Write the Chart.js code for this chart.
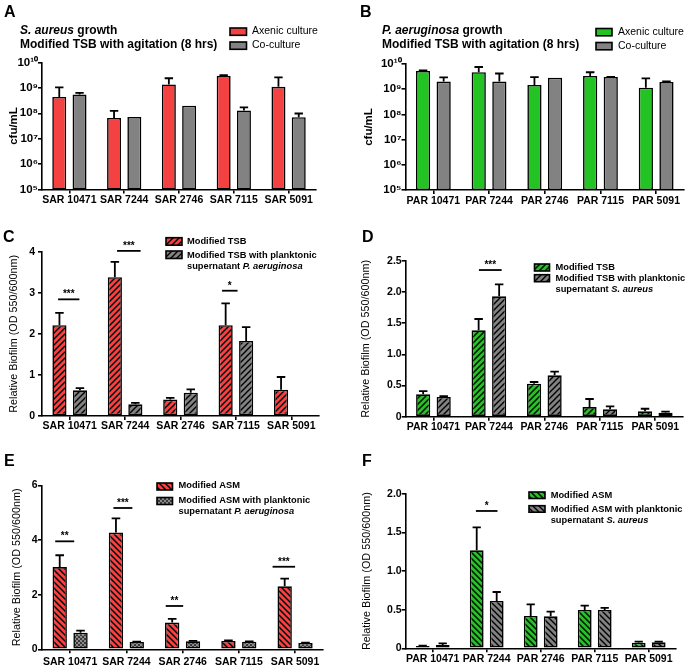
<!DOCTYPE html>
<html>
<head>
<meta charset="utf-8">
<script src="https://cdn.jsdelivr.net/npm/chart.js@4.4.1/dist/chart.umd.min.js"></script>
<style>
    html, body { margin: 0; padding: 0; background: #fff; }
    #fig { position: relative; width: 685px; height: 672px; }
    #fig canvas { position: absolute; }
</style>
</head>
<body>
<div id="fig">
    <canvas id="chartA" width="345" height="225" style="left:0;top:0"></canvas>
    <canvas id="chartB" width="340" height="225" style="left:345px;top:0"></canvas>
    <canvas id="chartC" width="345" height="225" style="left:0;top:225px"></canvas>
    <canvas id="chartD" width="340" height="225" style="left:345px;top:225px"></canvas>
    <canvas id="chartE" width="345" height="222" style="left:0;top:450px"></canvas>
    <canvas id="chartF" width="340" height="222" style="left:345px;top:450px"></canvas>
</div>
<script>
// ---- data ----
const SAR_STRAINS = ['SAR 10471', 'SAR 7244', 'SAR 2746', 'SAR 7115', 'SAR 5091'];
const PAR_STRAINS = ['PAR 10471', 'PAR 7244', 'PAR 2746', 'PAR 7115', 'PAR 5091'];

// A: S. aureus growth (cfu/mL), error = upper SD
const saAxenic = [4.4e8, 6.6e7, 1.36e9, 3.0e9, 1.1e9];
const saAxenicErr = [6.0e8, 5.9e7, 1.04e9, 2.0e8, 1.5e9];
const saCoculture = [5.5e8, 7.2e7, 2.0e8, 1.3e8, 7.0e7];
const saCocultureErr = [9e7, 0, 0, 4e7, 2.8e7];

// B: P. aeruginosa growth (cfu/mL)
const paAxenic = [5.3e9, 4.7e9, 1.47e9, 3.34e9, 1.15e9];
const paAxenicErr = [3e8, 2.9e9, 1.53e9, 1.36e9, 1.55e9];
const paCoculture = [2.0e9, 2.0e9, 2.87e9, 3.05e9, 1.93e9];
const paCocultureErr = [9.6e8, 2.2e9, 0, 5e7, 1.1e8];

// C: S. aureus biofilm, modified TSB
const cTsb = [2.21, 3.38, 0.40, 2.21, 0.64];
const cTsbErr = [0.30, 0.37, 0.04, 0.53, 0.31];
const cTsbSup = [0.625, 0.284, 0.568, 1.826, null];
const cTsbSupErr = [0.055, 0.036, 0.08, 0.34, null];

// D: P. aeruginosa biofilm, modified TSB
const dTsb = [0.359, 1.387, 0.53, 0.155, 0.086];
const dTsbErr = [0.053, 0.182, 0.027, 0.129, 0.042];
const dTsbSup = [0.316, 1.933, 0.664, 0.118, 0.064];
const dTsbSupErr = [0.014, 0.192, 0.059, 0.048, 0.016];

// E: S. aureus biofilm, modified ASM
const eAsm = [3.01, 4.27, 0.976, 0.305, 2.305];
const eAsmErr = [0.43, 0.52, 0.134, 0.025, 0.28];
const eAsmSup = [0.61, 0.268, 0.293, 0.28, 0.232];
const eAsmSupErr = [0.073, 0.012, 0.012, 0.01, 0.012];

// F: P. aeruginosa biofilm, modified ASM
const fAsm = [0.03, 1.27, 0.419, 0.497, 0.073];
const fAsmErr = [0.005, 0.298, 0.151, 0.056, 0.013];
const fAsmSup = [0.043, 0.613, 0.415, 0.497, 0.078];
const fAsmSupErr = [0.022, 0.117, 0.06, 0.026, 0.008];

// significance bars: [category, from (cat widths), to, y value, stars]
const sigC = [[0, -0.21, 0.175, 2.84, '***'], [1, -0.145, 0.28, 4.02, '***'], [3, -0.25, 0.03, 3.05, '*']];
const sigD = [[1, -0.18, 0.23, 2.355, '***']];
const sigE = [[0, -0.265, 0.073, 3.95, '**'], [1, -0.23, 0.107, 5.17, '***'], [2, -0.3, 0.01, 1.585, '**'], [4, -0.4, 0.0, 3.02, '***']];
const sigF = [[1, -0.2, 0.2, 1.78, '*']];

// ---- styling ----
const FF = '"Liberation Sans", Arial, Helvetica, sans-serif';
const f = (style, size) => `${style} ${size}px ${FF}`;
const RED = '#f44242';
const GREEN = '#22c322';
const GREY = '#828282';
const TICK_FONT = { family: FF, size: 10.5, weight: 'bold' };

Chart.defaults.font.family = FF;
Chart.defaults.color = '#000';

function hatch(color, dir, size, lw) {
    const c = document.createElement('canvas');
    c.width = c.height = size;
    const g = c.getContext('2d');
    g.fillStyle = color;
    g.fillRect(0, 0, size, size);
    g.strokeStyle = '#000';
    g.lineWidth = lw;
    g.beginPath();
    for (let k = -1; k <= 2; k++) {
        const c0 = k * size;
        if (dir === '/') {
            g.moveTo(c0 + 2, -2); g.lineTo(c0 - size - 2, size + 2);
        } else {
            g.moveTo(c0 - 2, -2); g.lineTo(c0 + size + 2, size + 2);
        }
    }
    g.stroke();
    return g.createPattern(c, 'repeat');
}

function checker(bg, fg, cell) {
    const c = document.createElement('canvas');
    c.width = c.height = cell * 2;
    const g = c.getContext('2d');
    g.fillStyle = bg;
    g.fillRect(0, 0, cell * 2, cell * 2);
    g.fillStyle = fg;
    g.fillRect(0, 0, cell, cell);
    g.fillRect(cell, cell, cell, cell);
    return g.createPattern(c, 'repeat');
}

const SUP = '⁰¹²³⁴⁵⁶⁷⁸⁹';
function powerLabel(v) {
    const e = Math.round(Math.log10(v));
    return '10' + String(e).split('').map(d => SUP[+d]).join('');
}

// ---- plugins ----
const errorBarPlugin = {
    id: 'errorBars',
    afterDatasetsDraw(chart) {
        const ctx = chart.ctx, yScale = chart.scales.y;
        ctx.save();
        ctx.strokeStyle = '#000';
        ctx.lineWidth = 1.8;
        chart.data.datasets.forEach((ds, i) => {
            const meta = chart.getDatasetMeta(i);
            (ds.errorBars || []).forEach((e, j) => {
                const v = ds.data[j];
                if (!e || v == null) return;
                const bar = meta.data[j];
                const top = yScale.getPixelForValue(v + e);
                const half = bar.width * 0.3;
                ctx.beginPath();
                ctx.moveTo(bar.x, bar.y);
                ctx.lineTo(bar.x, top);
                ctx.moveTo(bar.x - half, top);
                ctx.lineTo(bar.x + half, top);
                ctx.stroke();
            });
        });
        ctx.restore();
    }
};

const sigPlugin = {
    id: 'sigBars',
    afterDatasetsDraw(chart, args, opts) {
        const ctx = chart.ctx, xs = chart.scales.x, ys = chart.scales.y;
        const step = xs.width / chart.data.labels.length;
        ctx.save();
        ctx.strokeStyle = '#000';
        ctx.fillStyle = '#000';
        ctx.lineWidth = 1.8;
        ctx.font = f('bold', 10);
        ctx.textAlign = 'center';
        ctx.textBaseline = 'alphabetic';
        for (const [cat, from, to, val, stars] of (opts.items || [])) {
            const cx = xs.getPixelForValue(cat);
            const y = ys.getPixelForValue(val);
            ctx.beginPath();
            ctx.moveTo(cx + from * step, y);
            ctx.lineTo(cx + to * step, y);
            ctx.stroke();
            ctx.fillText(stars, cx + (from + to) / 2 * step, y - 2);
        }
        ctx.restore();
    }
};

const textPlugin = {
    id: 'panelText',
    afterDraw(chart, args, opts) {
        const ctx = chart.ctx;
        ctx.save();
        ctx.textBaseline = 'middle';
        ctx.textAlign = 'left';
        for (const sw of (opts.swatches || [])) {
            ctx.fillStyle = chart.data.datasets[sw.ds].backgroundColor;
            ctx.fillRect(sw.x, sw.y, sw.w, sw.h);
            ctx.strokeStyle = '#000';
            ctx.lineWidth = 1.6;
            ctx.strokeRect(sw.x, sw.y, sw.w, sw.h);
        }
        ctx.fillStyle = '#000';
        for (const line of (opts.lines || [])) {
            let x = line.x;
            for (const [txt, font] of line.parts) {
                ctx.font = font;
                ctx.fillText(txt, x, line.y);
                x += ctx.measureText(txt).width;
            }
        }
        ctx.restore();
    }
};

// ---- chart builder ----
function panel(id, o) {
    const canvas = document.getElementById(id);
    const W = canvas.width, H = canvas.height, p = o.plot;
    const yAxis = Object.assign({
        grid: { drawOnChartArea: false, drawTicks: true, tickLength: 4, color: '#000', lineWidth: 1.6 },
        border: { display: true, color: '#000', width: 1.6 },
        title: { display: true, text: o.yTitle, color: '#000', font: o.yTitleFont, padding: { top: o.yTitlePad, bottom: 0 } },
        afterFit: s => { s.width = p.left; },
    }, o.y);
    yAxis.ticks = Object.assign({ color: '#000', font: TICK_FONT, padding: o.yPad }, o.y.ticks);

    return new Chart(canvas, {
        type: 'bar',
        data: {
            labels: o.labels,
            datasets: o.datasets.map(d => ({
                label: d.label,
                data: d.data,
                errorBars: d.err,
                backgroundColor: d.fill,
                borderColor: '#000',
                borderWidth: 1.6,
                borderSkipped: false,
                categoryPercentage: 0.74,
                barPercentage: 0.69,
            })),
        },
        options: {
            responsive: false,
            animation: false,
            events: [],
            layout: { padding: { left: 0, top: p.top, right: W - p.right, bottom: 0 } },
            plugins: {
                legend: { display: false },
                tooltip: { enabled: false },
                sigBars: { items: o.sig || [] },
                panelText: o.text,
            },
            scales: {
                x: {
                    offset: true,
                    grid: { offset: false, drawOnChartArea: false, drawTicks: true, tickLength: 4, color: '#000', lineWidth: 1.6 },
                    border: { display: true, color: '#000', width: 1.6 },
                    ticks: { color: '#000', font: TICK_FONT, padding: o.xPad, autoSkip: false, maxRotation: 0, minRotation: 0 },
                    afterFit: s => { s.height = H - p.bottom; },
                },
                y: yAxis,
            },
        },
        plugins: [errorBarPlugin, sigPlugin, textPlugin],
    });
}

const logY = {
    type: 'logarithmic',
    min: 1e5,
    max: 1e10,
    afterBuildTicks: s => {
        s.ticks = s.ticks.filter(t => Math.abs(Math.log10(t.value) - Math.round(Math.log10(t.value))) < 1e-9);
    },
    ticks: { callback: v => powerLabel(v), font: { family: FF, size: 11.5, weight: 'bold' } },
};
const linY = (max, step) => ({
    type: 'linear',
    min: 0,
    max: max,
    ticks: { stepSize: step, callback: v => (v === 0 ? '0' : (Number.isInteger(max) && Number.isInteger(step) ? String(v) : v.toFixed(1))) },
});

const BOLD12 = f('bold', 12), BI12 = f('italic bold', 12);
const LEG = f('bold', 9.3), LEGI = f('italic bold', 9.3);
const REG = f('normal', 10.5);
const LETTER = f('bold', 16);
const BIOFILM = 'Relative Biofilm (OD 550/600nm)';
const BIOFILM_FONT = { family: FF, size: 10.8, weight: 'normal' };
const CFU_FONT = { family: FF, size: 11.5, weight: 'bold' };

// A
panel('chartA', {
    labels: SAR_STRAINS,
    datasets: [
        { label: 'Axenic culture', data: saAxenic, err: saAxenicErr, fill: RED },
        { label: 'Co-culture', data: saCoculture, err: saCocultureErr, fill: GREY },
    ],
    plot: { left: 42, right: 316, top: 62.5, bottom: 189.5 },
    y: logY, yPad: 0, xPad: 0,
    yTitle: 'cfu/mL', yTitleFont: CFU_FONT, yTitlePad: 7,
    text: {
        swatches: [{ ds: 0, x: 230, y: 28, w: 16.5, h: 7.3 }, { ds: 1, x: 230, y: 42, w: 16.5, h: 7.3 }],
        lines: [
            { x: 4, y: 13, parts: [['A', LETTER]] },
            { x: 20, y: 30.5, parts: [['S. aureus', BI12], [' growth', BOLD12]] },
            { x: 20, y: 44.5, parts: [['Modified TSB with agitation (8 hrs)', BOLD12]] },
            { x: 252, y: 31.5, parts: [['Axenic culture', REG]] },
            { x: 252, y: 45.5, parts: [['Co-culture', REG]] },
        ],
    },
});

// B
panel('chartB', {
    labels: PAR_STRAINS,
    datasets: [
        { label: 'Axenic culture', data: paAxenic, err: paAxenicErr, fill: GREEN },
        { label: 'Co-culture', data: paCoculture, err: paCocultureErr, fill: GREY },
    ],
    plot: { left: 60.5, right: 339, top: 64, bottom: 190 },
    y: logY, yPad: 0, xPad: 1,
    yTitle: 'cfu/mL', yTitleFont: CFU_FONT, yTitlePad: 17,
    text: {
        swatches: [{ ds: 0, x: 251, y: 28.5, w: 16, h: 7.3 }, { ds: 1, x: 251, y: 42.5, w: 16, h: 7.3 }],
        lines: [
            { x: 15, y: 13, parts: [['B', LETTER]] },
            { x: 37, y: 30.5, parts: [['P. aeruginosa', BI12], [' growth', BOLD12]] },
            { x: 37, y: 44.5, parts: [['Modified TSB with agitation (8 hrs)', BOLD12]] },
            { x: 273, y: 32, parts: [['Axenic culture', REG]] },
            { x: 273, y: 46, parts: [['Co-culture', REG]] },
        ],
    },
});

// C
panel('chartC', {
    labels: SAR_STRAINS,
    datasets: [
        { label: 'Modified TSB', data: cTsb, err: cTsbErr, fill: hatch(RED, '/', 6, 1.4) },
        { label: 'Modified TSB with planktonic supernatant P. aeruginosa', data: cTsbSup, err: cTsbSupErr, fill: hatch(GREY, '/', 6, 1.4) },
    ],
    plot: { left: 42, right: 319, top: 26.7, bottom: 191 },
    y: linY(4, 1), yPad: 3, xPad: 0,
    yTitle: BIOFILM, yTitleFont: BIOFILM_FONT, yTitlePad: 7.3,
    sig: sigC,
    text: {
        swatches: [{ ds: 0, x: 166, y: 12.7, w: 16, h: 7.5 }, { ds: 1, x: 166, y: 26, w: 16, h: 7.5 }],
        lines: [
            { x: 3, y: 12.5, parts: [['C', LETTER]] },
            { x: 187, y: 16.7, parts: [['Modified TSB', LEG]] },
            { x: 187, y: 30, parts: [['Modified TSB with planktonic', LEG]] },
            { x: 187, y: 41.7, parts: [['supernatant ', LEG], ['P. aeruginosa', LEGI]] },
        ],
    },
});

// D
panel('chartD', {
    labels: PAR_STRAINS,
    datasets: [
        { label: 'Modified TSB', data: dTsb, err: dTsbErr, fill: hatch(GREEN, '/', 6, 1.4) },
        { label: 'Modified TSB with planktonic supernatant S. aureus', data: dTsbSup, err: dTsbSupErr, fill: hatch(GREY, '/', 6, 1.4) },
    ],
    plot: { left: 60.7, right: 338, top: 36, bottom: 191.7 },
    y: linY(2.5, 0.5), yPad: 0, xPad: 0,
    yTitle: BIOFILM, yTitleFont: BIOFILM_FONT, yTitlePad: 14.8,
    sig: sigD,
    text: {
        swatches: [{ ds: 0, x: 189.5, y: 39, w: 15, h: 7 }, { ds: 1, x: 189.5, y: 49.7, w: 15, h: 7 }],
        lines: [
            { x: 17, y: 12.5, parts: [['D', LETTER]] },
            { x: 210.5, y: 42.5, parts: [['Modified TSB', LEG]] },
            { x: 210.5, y: 53.3, parts: [['Modified TSB with planktonic', LEG]] },
            { x: 210.5, y: 64.3, parts: [['supernatant ', LEG], ['S. aureus', LEGI]] },
        ],
    },
});

// E
panel('chartE', {
    labels: SAR_STRAINS,
    datasets: [
        { label: 'Modified ASM', data: eAsm, err: eAsmErr, fill: hatch(RED, '\\', 6, 1.4) },
        { label: 'Modified ASM with planktonic supernatant P. aeruginosa', data: eAsmSup, err: eAsmSupErr, fill: checker('#8c8c8c', '#3a3a3a', 2) },
    ],
    plot: { left: 42, right: 323.2, top: 35.3, bottom: 199.3 },
    y: linY(6, 2), yPad: 0.5, xPad: 3,
    yTitle: BIOFILM, yTitleFont: BIOFILM_FONT, yTitlePad: 10.2,
    sig: sigE,
    text: {
        swatches: [{ ds: 0, x: 157, y: 33, w: 15.5, h: 7 }, { ds: 1, x: 157, y: 47.5, w: 15.5, h: 7 }],
        lines: [
            { x: 4, y: 11.7, parts: [['E', LETTER]] },
            { x: 178.5, y: 35.5, parts: [['Modified ASM', LEG]] },
            { x: 178.5, y: 50, parts: [['Modified ASM with planktonic', LEG]] },
            { x: 178.5, y: 61.7, parts: [['supernatant ', LEG], ['P. aeruginosa', LEGI]] },
        ],
    },
});

// F
panel('chartF', {
    labels: PAR_STRAINS,
    datasets: [
        { label: 'Modified ASM', data: fAsm, err: fAsmErr, fill: hatch(GREEN, '\\', 6, 1.4) },
        { label: 'Modified ASM with planktonic supernatant S. aureus', data: fAsmSup, err: fAsmSupErr, fill: hatch(GREY, '\\', 6, 1.4) },
    ],
    plot: { left: 60.7, right: 330.7, top: 44, bottom: 198.3 },
    y: linY(2, 0.5), yPad: 0, xPad: 1,
    yTitle: BIOFILM, yTitleFont: BIOFILM_FONT, yTitlePad: 15.8,
    sig: sigF,
    text: {
        swatches: [{ ds: 0, x: 184, y: 42, w: 16, h: 6.5 }, { ds: 1, x: 184, y: 55.7, w: 16, h: 6.5 }],
        lines: [
            { x: 17, y: 11.7, parts: [['F', LETTER]] },
            { x: 205.7, y: 45, parts: [['Modified ASM', LEG]] },
            { x: 205.7, y: 59, parts: [['Modified ASM with planktonic', LEG]] },
            { x: 205.7, y: 70, parts: [['supernatant ', LEG], ['S. aureus', LEGI]] },
        ],
    },
});
</script>
</body>
</html>
